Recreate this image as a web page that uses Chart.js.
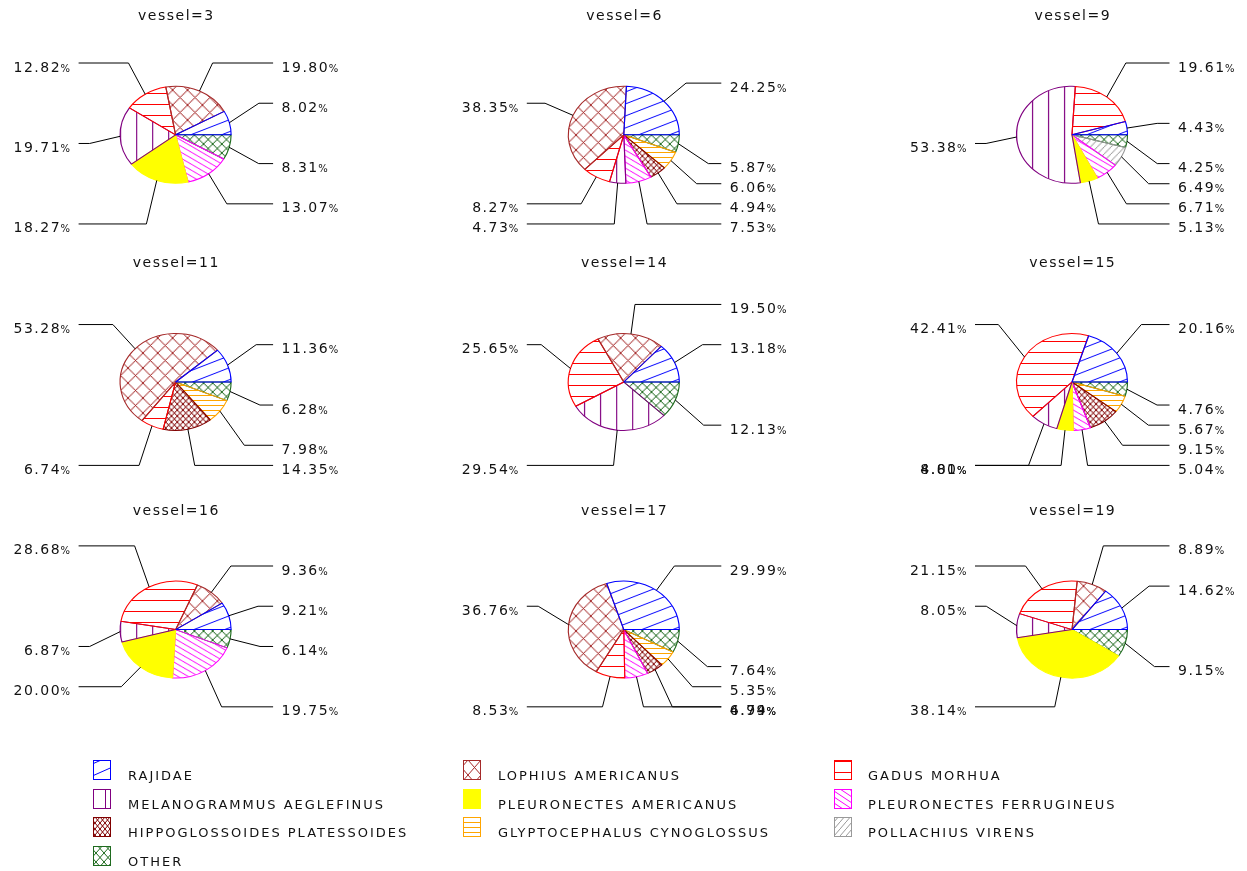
<!DOCTYPE html>
<html>
<head>
<meta charset="utf-8">
<script src="https://cdn.jsdelivr.net/npm/chart.js@4.4.1/dist/chart.umd.min.js"></script>
<style>
  html, body { margin: 0; padding: 0; background: #fff; overflow: hidden; }
  body { width: 1247px; height: 871px; position: relative; }
  canvas { position: absolute; }
</style>
</head>
<body>
<script>
var vessels = [3, 6, 9, 11, 14, 15, 16, 17, 19];
var species = ["RAJIDAE", "LOPHIUS AMERICANUS", "GADUS MORHUA", "MELANOGRAMMUS AEGLEFINUS",
  "PLEURONECTES AMERICANUS", "PLEURONECTES FERRUGINEUS", "HIPPOGLOSSOIDES PLATESSOIDES",
  "GLYPTOCEPHALUS CYNOGLOSSUS", "POLLACHIUS VIRENS", "OTHER"];

// percent of catch, one value per vessel (same order as vessels)
var rajidae         = [8.02, 24.25, 4.43, 11.36, 13.18, 20.16, 9.21, 29.99, 14.62];
var lophius         = [19.80, 38.35, 0, 53.28, 19.50, 0, 9.36, 36.76, 8.89];
var gadus           = [12.82, 8.27, 19.61, 6.74, 25.65, 42.41, 28.68, 8.53, 21.15];
var melanogrammus   = [19.71, 4.73, 53.38, 0, 29.54, 8.01, 6.87, 0, 8.05];
var pAmericanus     = [18.27, 0, 5.13, 0, 0, 4.80, 20.00, 0, 38.14];
var pFerrugineus    = [13.07, 7.53, 6.71, 0, 0, 5.04, 19.75, 6.79, 0];
var hippoglossoides = [0, 4.94, 0, 14.35, 0, 9.15, 0, 4.94, 0];
var glyptocephalus  = [0, 6.06, 0, 7.98, 0, 5.67, 0, 5.35, 0];
var pollachius      = [0, 0, 6.49, 0, 0, 0, 0, 0, 0];
var other           = [8.31, 5.87, 4.25, 6.28, 12.13, 4.76, 6.14, 7.64, 9.15];

var series = [rajidae, lophius, gadus, melanogrammus, pAmericanus, pFerrugineus,
  hippoglossoides, glyptocephalus, pollachius, other];

var colors = ['#0000ff', '#a52a2a', '#ff0000', '#800080', '#ffff00', '#ff00ff',
  '#800000', '#ffa500', '#999999', '#1f6b1f'];
// kind, tile width, tile height
var hatches = [['up', 27, 12], ['x', 13, 15], ['h', 4, 11], ['v', 14, 4], ['solid', 4, 4],
  ['down', 9, 6], ['x', 5, 6], ['h', 4, 5], ['up', 6, 7], ['x', 8, 9]];

var helper = document.createElement('canvas').getContext('2d');
function hatch(color, kind, w, h) {
  var c = document.createElement('canvas');
  c.width = w; c.height = h;
  var g = c.getContext('2d');
  g.strokeStyle = color; g.fillStyle = color; g.lineWidth = 1;
  if (kind === 'solid') g.fillRect(0, 0, w, h);
  else if (kind === 'h') g.fillRect(0, Math.floor(h / 2), w, 1);
  else if (kind === 'v') g.fillRect(Math.floor(w / 2), 0, 1, h);
  else {
    g.beginPath();
    for (var k = -1; k <= 1; k++) {
      if (kind === 'up' || kind === 'x') { g.moveTo(0, h + k * h); g.lineTo(w, k * h); }
      if (kind === 'down' || kind === 'x') { g.moveTo(0, k * h); g.lineTo(w, h + k * h); }
    }
    g.stroke();
  }
  return helper.createPattern(c, 'repeat');
}
var patterns = colors.map(function (c, s) {
  return hatch(c, hatches[s][0], hatches[s][1], hatches[s][2]);
});

var FONT = '"DejaVu Sans", sans-serif';
var INK = '#111';
var SX = 55.5 / 48.5;          // pies are drawn as ellipses
var GRID0 = 63, GRID = 20.12;  // label rows on the page
var KTOP = 74, KBOT = 73.5;

// stretch the pie horizontally around its centre
var ellipse = {
  id: 'ellipse',
  beforeDatasetsDraw: function (chart) {
    var a = chart.getDatasetMeta(0).data[0];
    var ctx = chart.ctx;
    ctx.save();
    ctx.translate(a.x, a.y); ctx.scale(SX, 1); ctx.translate(-a.x, -a.y);
  },
  afterDatasetsDraw: function (chart) { chart.ctx.restore(); }
};

function drawPct(ctx, text, x, y, alignRight) {
  ctx.font = '14px ' + FONT; ctx.letterSpacing = '1.5px';
  var w1 = ctx.measureText(text).width;
  ctx.font = '10px ' + FONT; ctx.letterSpacing = '0px';
  var w2 = ctx.measureText('%').width;
  var x1 = alignRight ? x - w1 - w2 : x;
  ctx.font = '14px ' + FONT; ctx.letterSpacing = '1.5px';
  ctx.fillText(text, x1, y);
  ctx.font = '10px ' + FONT; ctx.letterSpacing = '0px';
  ctx.fillText('%', x1 + w1 - 0.5, y);
}

var pieLabels = {
  id: 'pieLabels',
  afterDraw: function (chart, args, opts) {
    var ctx = chart.ctx;
    var meta = chart.getDatasetMeta(0);
    var values = chart.data.datasets[0].data;
    ctx.save();
    ctx.fillStyle = INK; ctx.strokeStyle = '#000'; ctx.lineWidth = 1;
    ctx.textAlign = 'left'; ctx.textBaseline = 'alphabetic';
    var cx = meta.data[0].x, cy = meta.data[0].y;

    ctx.font = '14px ' + FONT; ctx.letterSpacing = '1.5px';
    ctx.textAlign = 'center';
    ctx.fillText(opts.title, cx + 0.75, cy - 114.8);
    ctx.textAlign = 'left';

    meta.data.forEach(function (arc, j) {
      var m = (arc.startAngle + arc.endAngle) / 2;
      var c = Math.cos(m), s = -Math.sin(m);
      var ry = arc.outerRadius, rx = ry * SX;
      var x0 = arc.x + rx * c, y0 = arc.y - ry * s;
      var pageCy = arc.y + opts.top, k;
      if (s >= 0) k = Math.floor((pageCy - KTOP * s - GRID0) / GRID);
      else k = Math.ceil((pageCy - KBOT * s - GRID0) / GRID);
      var yk = GRID0 + k * GRID - opts.top;
      var xk = arc.x + 86 * c;
      var right = c >= 0;
      var xe = right ? arc.x + 97.5 : arc.x - 97;
      ctx.beginPath();
      ctx.moveTo(x0, y0); ctx.lineTo(xk, yk); ctx.lineTo(xe, yk);
      ctx.stroke();
      var txt = values[j].toFixed(2);
      drawPct(ctx, txt, right ? arc.x + 106 : arc.x - 105, yk + 8.5, !right);
    });
    ctx.restore();
  }
};

var colCx = [175.6, 623.8, 1072];
var rowCy = [134.8, 382, 629.6];
var rowTop = [0, 248, 496];
var W = 448, H = 244;

vessels.forEach(function (v, i) {
  var col = i % 3, row = Math.floor(i / 3);
  var left = Math.round(colCx[col] - W / 2);
  var top = rowTop[row];
  var lx = colCx[col] - left, ly = rowCy[row] - top;
  var cv = document.createElement('canvas');
  cv.width = W; cv.height = H;
  cv.style.left = left + 'px'; cv.style.top = top + 'px';
  document.body.appendChild(cv);

  // counter-clockwise from 3 o'clock: feed the slices reversed, clockwise
  var idx = [];
  series.forEach(function (arr, s) { if (arr[i] > 0) idx.push(s); });
  idx.reverse();

  new Chart(cv, {
    type: 'pie',
    data: {
      labels: idx.map(function (s) { return species[s]; }),
      datasets: [{
        data: idx.map(function (s) { return series[s][i]; }),
        backgroundColor: idx.map(function (s) { return patterns[s]; }),
        borderColor: idx.map(function (s) { return colors[s]; }),
        borderWidth: 1,
        clip: false
      }]
    },
    options: {
      responsive: false,
      animation: false,
      events: [],
      devicePixelRatio: 1,
      rotation: 90,
      radius: 48.5,
      layout: { padding: { top: 2 * ly - H, bottom: 0, left: 0, right: W - 2 * lx } },
      plugins: {
        legend: { display: false },
        tooltip: { enabled: false },
        pieLabels: { title: 'vessel=' + v, top: top }
      }
    },
    plugins: [ellipse, pieLabels]
  });
});

// legend, three columns
var lg = document.createElement('canvas');
lg.width = 1247; lg.height = 126;
lg.style.left = '0px'; lg.style.top = '745px';
document.body.appendChild(lg);
var g = lg.getContext('2d');
var boxX = [93, 463, 834], textX = [128, 498, 868];
var rowY = [760, 788.5, 817, 845.5];
g.font = '13px ' + FONT; g.letterSpacing = '2px';
species.forEach(function (name, s) {
  var c = s % 3, r = Math.floor(s / 3);
  var x = boxX[c], y = Math.round(rowY[r] - 745);
  g.fillStyle = '#fff'; g.fillRect(x, y, 18, 20);
  g.fillStyle = patterns[s]; g.fillRect(x, y, 18, 20);
  g.strokeStyle = colors[s]; g.lineWidth = 1;
  g.strokeRect(x + 0.5, y + 0.5, 17, 19);
  g.fillStyle = INK;
  g.fillText(name, textX[c], y + 20);
});
</script>
</body>
</html>
